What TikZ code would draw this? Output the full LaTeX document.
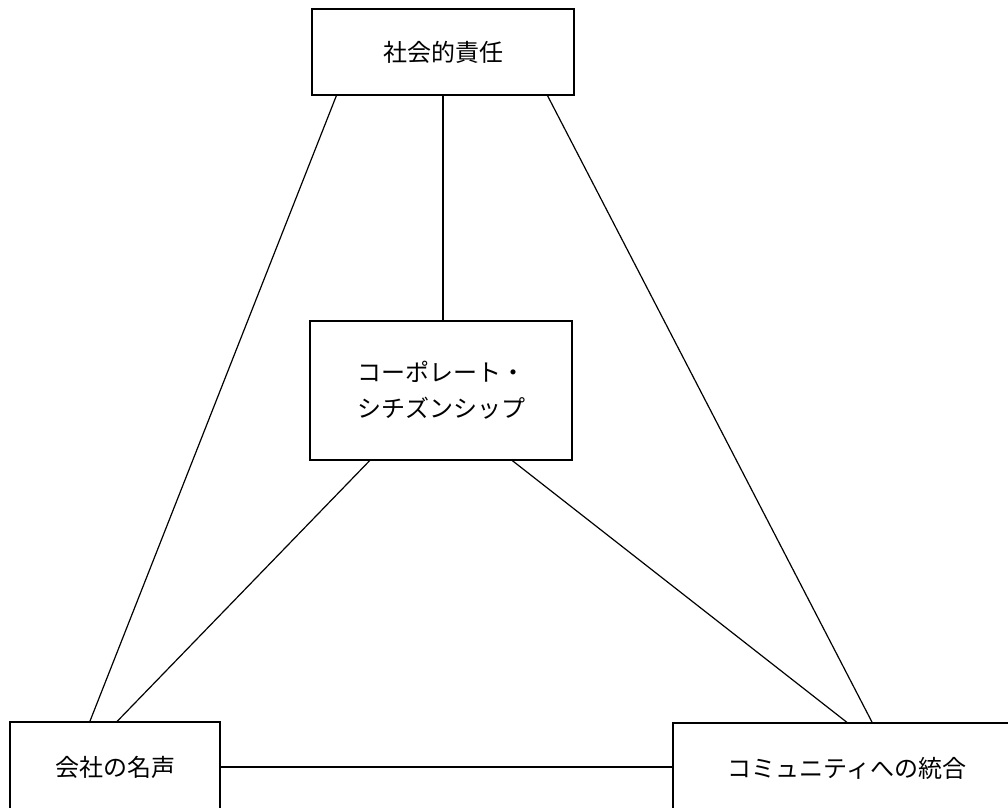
\documentclass[tikz,border=0pt]{standalone}
\usepackage{fontspec}
\newfontfamily\jp{Noto Sans CJK JP}
\usetikzlibrary{calc}
\begin{document}
\begin{tikzpicture}[x=1pt,y=-1pt,
  box/.style={draw,line width=1.2pt,rectangle,inner sep=0pt,font=\jp\fontsize{24}{36}\selectfont,align=center},
  link/.style={line width=1.2pt}]
\useasboundingbox (0,0) rectangle (1008,807);
\clip (0,0) rectangle (1008,807);
\node[box,minimum width=262pt,minimum height=86pt] (top) at (443,52) {社会的責任};
\node[box,minimum width=262pt,minimum height=139pt] (mid) at (441,390.5) {コーポレート・\\シチズンシップ};
\node[box,minimum width=210pt,minimum height=90pt] (bl) at (115,767) {会社の名声};
\node[box,minimum width=348pt,minimum height=90pt] (br) at (847,768) {コミュニティへの統合};
\draw[link] ($(top.south west)!0.095!(top.south east)$) -- ($(bl.north west)!0.381!(bl.north east)$);
\draw[link] (top.south) -- (mid.north -| top.south);
\draw[link] ($(top.south west)!0.897!(top.south east)$) -- ($(br.north west)!0.572!(br.north east)$);
\draw[link] ($(mid.south west)!0.229!(mid.south east)$) -- ($(bl.north west)!0.51!(bl.north east)$);
\draw[link] ($(mid.south west)!0.771!(mid.south east)$) -- ($(br.north west)!0.5!(br.north east)$);
\draw[link] (bl.east) -- (br.west |- bl.east);
\end{tikzpicture}
\end{document}
